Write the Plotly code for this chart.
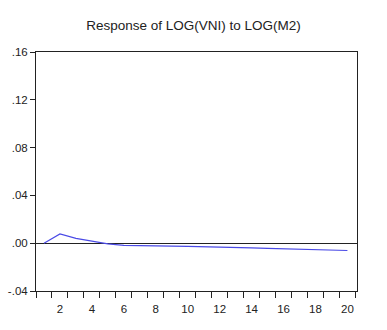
import plotly.graph_objects as go

# Impulse response of LOG(VNI) to a shock in LOG(M2), periods 1..20
periods = list(range(1, 21))
response = [0.0000, 0.0078, 0.0040, 0.0015, -0.0005, -0.0018, -0.0022, -0.0024,
            -0.0025, -0.0026, -0.0028, -0.0031, -0.0035, -0.0039, -0.0043,
            -0.0047, -0.0050, -0.0053, -0.0057, -0.0061]

y_tickvals = [-0.04, 0.00, 0.04, 0.08, 0.12, 0.16]
y_ticktext = ["-.04", ".00", ".04", ".08", ".12", ".16"]
x_tickvals = [2, 4, 6, 8, 10, 12, 14, 16, 18, 20]
x_ticktext = [str(v) for v in x_tickvals]

fig = go.Figure()
fig.add_trace(go.Scatter(
    x=periods, y=response, mode="lines",
    line=dict(color="#4a4ae6", width=1.2),
    showlegend=False,
))

font = dict(family="Liberation Sans, Arial, sans-serif", color="#222222")

fig.update_layout(
    width=387, height=330,
    margin=dict(l=36, r=30, t=52, b=39),
    paper_bgcolor="white", plot_bgcolor="white",
    title=dict(text="Response of LOG(VNI) to LOG(M2)", x=0.5, xanchor="center",
               y=1 - 25 / 330, yanchor="middle",
               font=dict(size=13.5, **font)),
    font=dict(size=11.5, **font),
)

fig.update_xaxes(
    range=[0.5, 20.6], automargin=False,
    tickmode="array", tickvals=x_tickvals, ticktext=x_ticktext,
    ticks="outside", ticklen=7, tickcolor="rgba(0,0,0,0)",
    minor=dict(tickmode="linear", tick0=0.5, dtick=1, ticks="outside",
               ticklen=6, tickcolor="#222222", showgrid=False),
    showgrid=False, zeroline=False,
    showline=True, linecolor="#222222", linewidth=1, mirror=True,
)
fig.update_yaxes(
    range=[-0.04, 0.16], automargin=False,
    tickmode="array", tickvals=y_tickvals, ticktext=y_ticktext,
    ticks="outside", ticklen=5, tickcolor="#222222",
    showgrid=False, zeroline=True, zerolinecolor="#222222", zerolinewidth=1,
    showline=True, linecolor="#222222", linewidth=1, mirror=True,
)

fig.write_html("out.html")
